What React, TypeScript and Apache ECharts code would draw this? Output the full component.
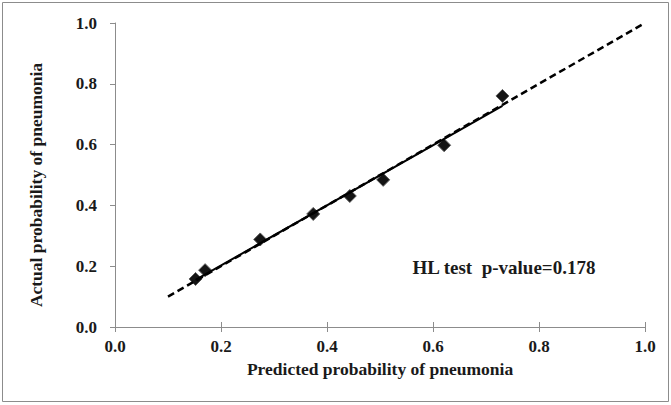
import React, { useEffect, useRef } from "react";
import * as echarts from "echarts";

const predicted = [0.152, 0.17, 0.274, 0.374, 0.443, 0.506, 0.621, 0.731];
const actual = [0.158, 0.187, 0.288, 0.372, 0.431, 0.484, 0.598, 0.76];
const fitLine = [
  [0.152, 0.155],
  [0.731, 0.727],
];
const idealLine = [
  [0.1, 0.1],
  [1.0, 1.0],
];
const xTitle = "Predicted probability of pneumonia";
const yTitle = "Actual probability of pneumonia";
const annotation = "HL test  p-value=0.178";

export default function App() {
  const ref = useRef<HTMLDivElement>(null);
  useEffect(() => {
    document.body.style.margin = "0";
    const chart = echarts.init(ref.current!, null, { renderer: "svg" });
    const font = "'Liberation Serif', 'Times New Roman', serif";
    const labelStyle = {
      fontFamily: font,
      fontWeight: "bold",
      fontSize: 17,
      color: "#1a1a1a",
      formatter: (v: number) => v.toFixed(1),
    };
    const axisLine = { show: true, lineStyle: { color: "#8c8c8c", width: 1 } };
    chart.setOption({
      animation: false,
      backgroundColor: "#ffffff",
      grid: { left: 115, right: 26, top: 23, bottom: 78 },
      xAxis: [
        {
          type: "value",
          position: "bottom",
          min: 0,
          max: 1,
          interval: 0.2,
          splitLine: { show: false },
          axisLine,
          axisTick: { show: true, inside: false, length: 5, lineStyle: { color: "#8c8c8c" } },
          axisLabel: { ...labelStyle, margin: 11 },
          name: xTitle,
          nameLocation: "middle",
          nameGap: 31,
          nameTextStyle: { fontFamily: font, fontWeight: "bold", fontSize: 17.5, color: "#1a1a1a" },
        },
        {
          type: "value",
          position: "bottom",
          offset: 0,
          min: 0,
          max: 1,
          interval: 0.2,
          splitLine: { show: false },
          axisLine: { show: false },
          axisTick: { show: true, inside: true, length: 5, lineStyle: { color: "#8c8c8c" } },
          axisLabel: { show: false },
        },
      ],
      yAxis: {
        type: "value",
        min: 0,
        max: 1,
        interval: 0.2,
        splitLine: { show: false },
        axisLine,
        axisTick: { show: true, inside: false, length: 5, lineStyle: { color: "#8c8c8c" } },
        axisLabel: { ...labelStyle, margin: 18 },
      },
      graphic: [
        {
          type: "rect",
          shape: { x: 2.5, y: 2.5, width: 666, height: 399 },
          style: { fill: "none", stroke: "#8c8c8c", lineWidth: 1 },
          silent: true,
        },
        {
          type: "text",
          x: 36,
          y: 185,
          rotation: Math.PI / 2,
          style: {
            text: yTitle,
            font: `bold 17.5px ${font}`,
            fill: "#1a1a1a",
            align: "center",
            verticalAlign: "middle",
          },
        },
        {
          type: "text",
          x: 504,
          y: 267,
          style: {
            text: annotation,
            font: `bold 19px ${font}`,
            fill: "#1a1a1a",
            align: "center",
            verticalAlign: "middle",
          },
        },
      ],
      series: [
        {
          type: "scatter",
          symbol: "diamond",
          symbolSize: 13,
          data: predicted.map((x, i) => [x, actual[i]]),
          itemStyle: { color: "#141414", borderColor: "#5a5a5a", borderWidth: 1, opacity: 1 },
          z: 2,
        },
        {
          type: "line",
          data: fitLine,
          showSymbol: false,
          symbol: "none",
          lineStyle: { color: "#000000", width: 2, type: "solid" },
          z: 3,
        },
        {
          type: "line",
          data: idealLine,
          showSymbol: false,
          symbol: "none",
          lineStyle: { color: "#000000", width: 2.5, type: [7, 4] },
          z: 4,
        },
      ],
    });
    return () => chart.dispose();
  }, []);
  return <div ref={ref} style={{ width: 671, height: 405 }} />;
}
